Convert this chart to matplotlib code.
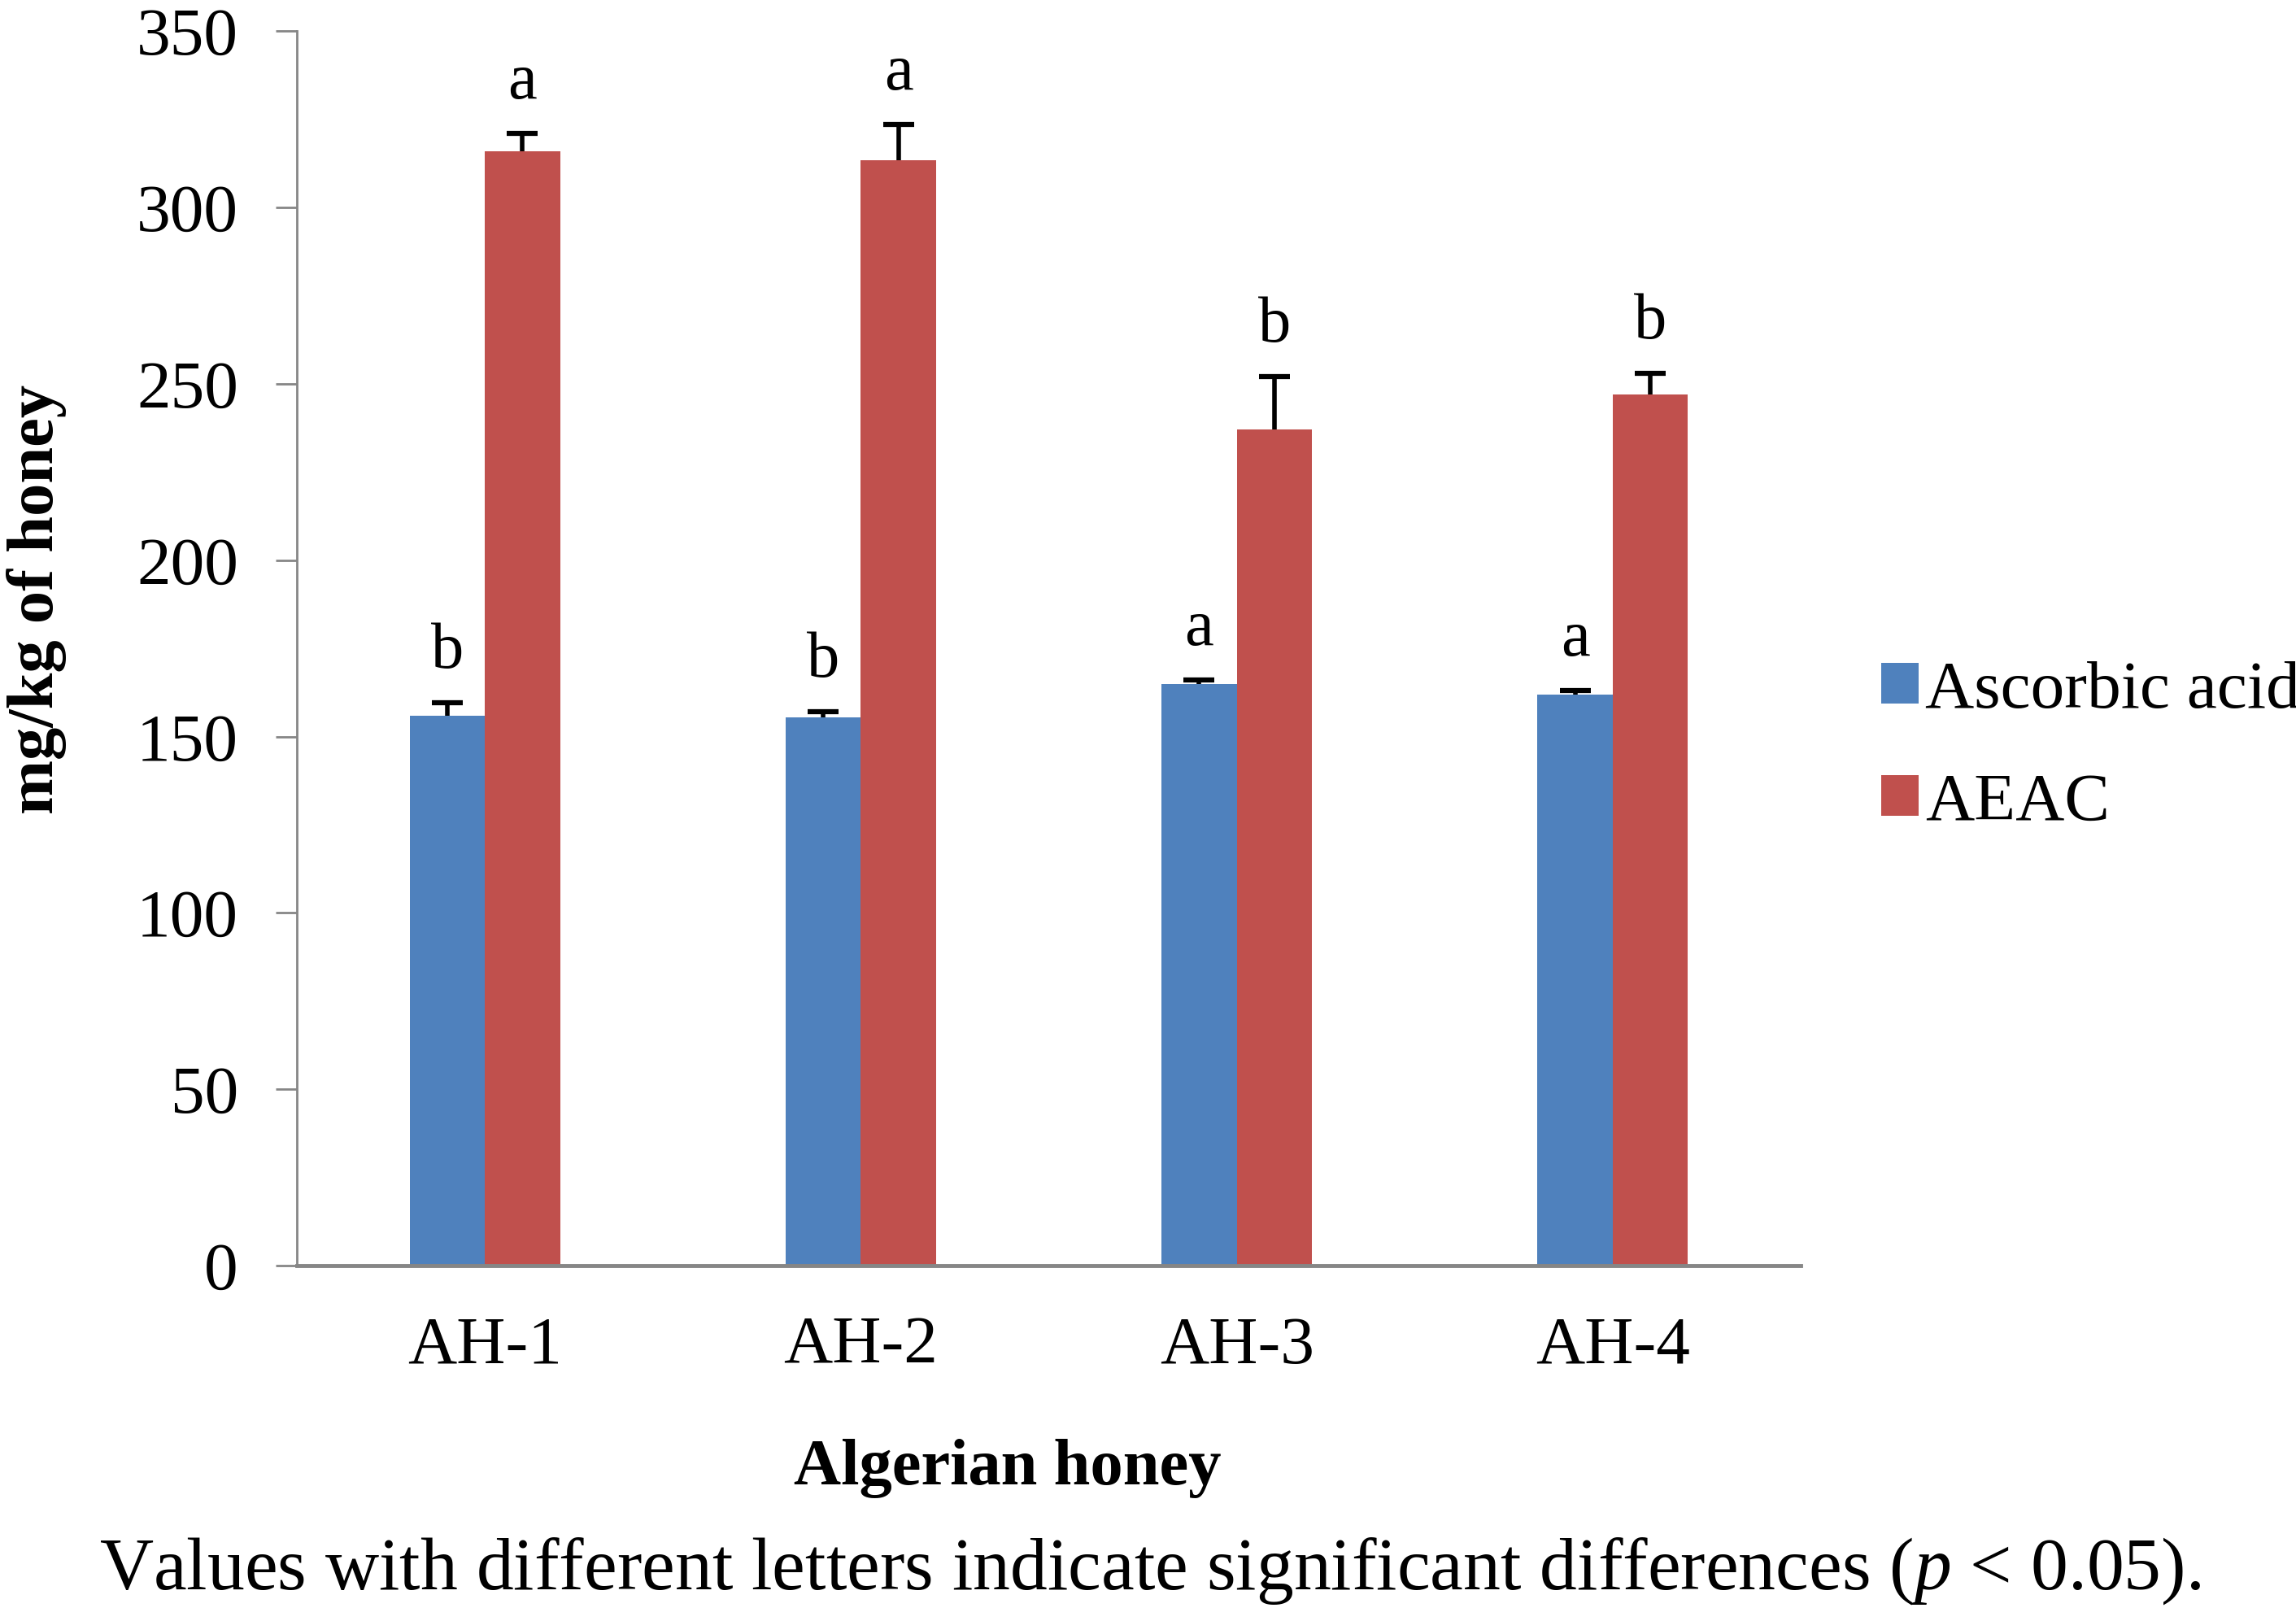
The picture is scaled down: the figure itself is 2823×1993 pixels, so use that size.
import numpy as np
import matplotlib
matplotlib.use("Agg")
import matplotlib.pyplot as plt

plt.rcParams['font.family'] = ['Liberation Serif', 'DejaVu Serif']
plt.rcParams['mathtext.fontset'] = 'custom'
plt.rcParams['mathtext.rm'] = 'Liberation Serif'
plt.rcParams['mathtext.it'] = 'Liberation Serif:italic'

samples = ["AH-1", "AH-2", "AH-3", "AH-4"]
ascorbic = [156, 155.5, 165, 162]
ascorbic_err = [3.5, 1.5, 1, 1]
aeac = [316, 313.5, 237, 247]
aeac_err = [5, 10, 15, 6]
ascorbic_letters = ["b", "b", "a", "a"]
aeac_letters = ["a", "a", "b", "b"]

blue = "#4F81BD"
red = "#C0504D"
grey = "#868686"

fig = plt.figure(figsize=(28.23, 19.93), dpi=100)
ax = fig.add_axes([0.1293, 0.2193, 0.6550, 0.7614])

x = np.arange(len(samples))
w = 0.2
ax.bar(x - w/2, ascorbic, w, color=blue, label="Ascorbic acid")
ax.bar(x + w/2, aeac, w, color=red, label="AEAC")

# upper error bars only (plus direction), with a cap on top
for xs, vals, errs in [(x - w/2, ascorbic, ascorbic_err), (x + w/2, aeac, aeac_err)]:
    vals = np.array(vals)
    errs = np.array(errs)
    ax.errorbar(xs, vals, yerr=[np.zeros(len(errs)), errs], fmt="none",
                ecolor="black", elinewidth=4, capsize=0)
    ax.plot(xs, vals + errs, ls="none", marker="_", markersize=27,
            mew=4.5, color="black")

for i in range(len(samples)):
    ax.text(x[i] - w/2, ascorbic[i] + ascorbic_err[i] + 6, ascorbic_letters[i],
            ha="center", va="bottom", fontsize=58)
    ax.text(x[i] + w/2, aeac[i] + aeac_err[i] + 6, aeac_letters[i],
            ha="center", va="bottom", fontsize=58)

ax.set_xlim(-0.5, 3.5)
ax.set_ylim(0, 350)
ax.set_yticks(range(0, 351, 50))
ax.set_xticks(x)
ax.set_xticklabels(samples)
ax.tick_params(axis="y", length=19, width=2, color=grey, pad=33, labelsize=60)
ax.tick_params(axis="x", length=0, pad=45, labelsize=60)

for s in ["top", "right"]:
    ax.spines[s].set_visible(False)
ax.spines["left"].set_color(grey)
ax.spines["left"].set_linewidth(2)
ax.spines["bottom"].set_color(grey)
ax.spines["bottom"].set_linewidth(3.5)

ax.legend(loc="center left", bbox_to_anchor=(0.8194, 0.539),
          bbox_transform=fig.transFigure, frameon=False, fontsize=60,
          handlelength=0.55, handleheight=0.55, handletextpad=0.1,
          labelspacing=0.75, borderpad=0, borderaxespad=0)

fig.text(0.016, 0.63, "mg/kg of honey", rotation=90, ha="center", va="center",
         fontsize=58, fontweight="bold")
fig.text(0.4387, 0.0943, "Algerian honey", ha="center", va="center",
         fontsize=58, fontweight="bold")
fig.text(0.501, 0.031,
         "Values with different letters indicate significant differences ($\\mathit{p}$ < 0.05).",
         ha="center", va="center", fontsize=66)

plt.savefig("out.png", dpi=100)
